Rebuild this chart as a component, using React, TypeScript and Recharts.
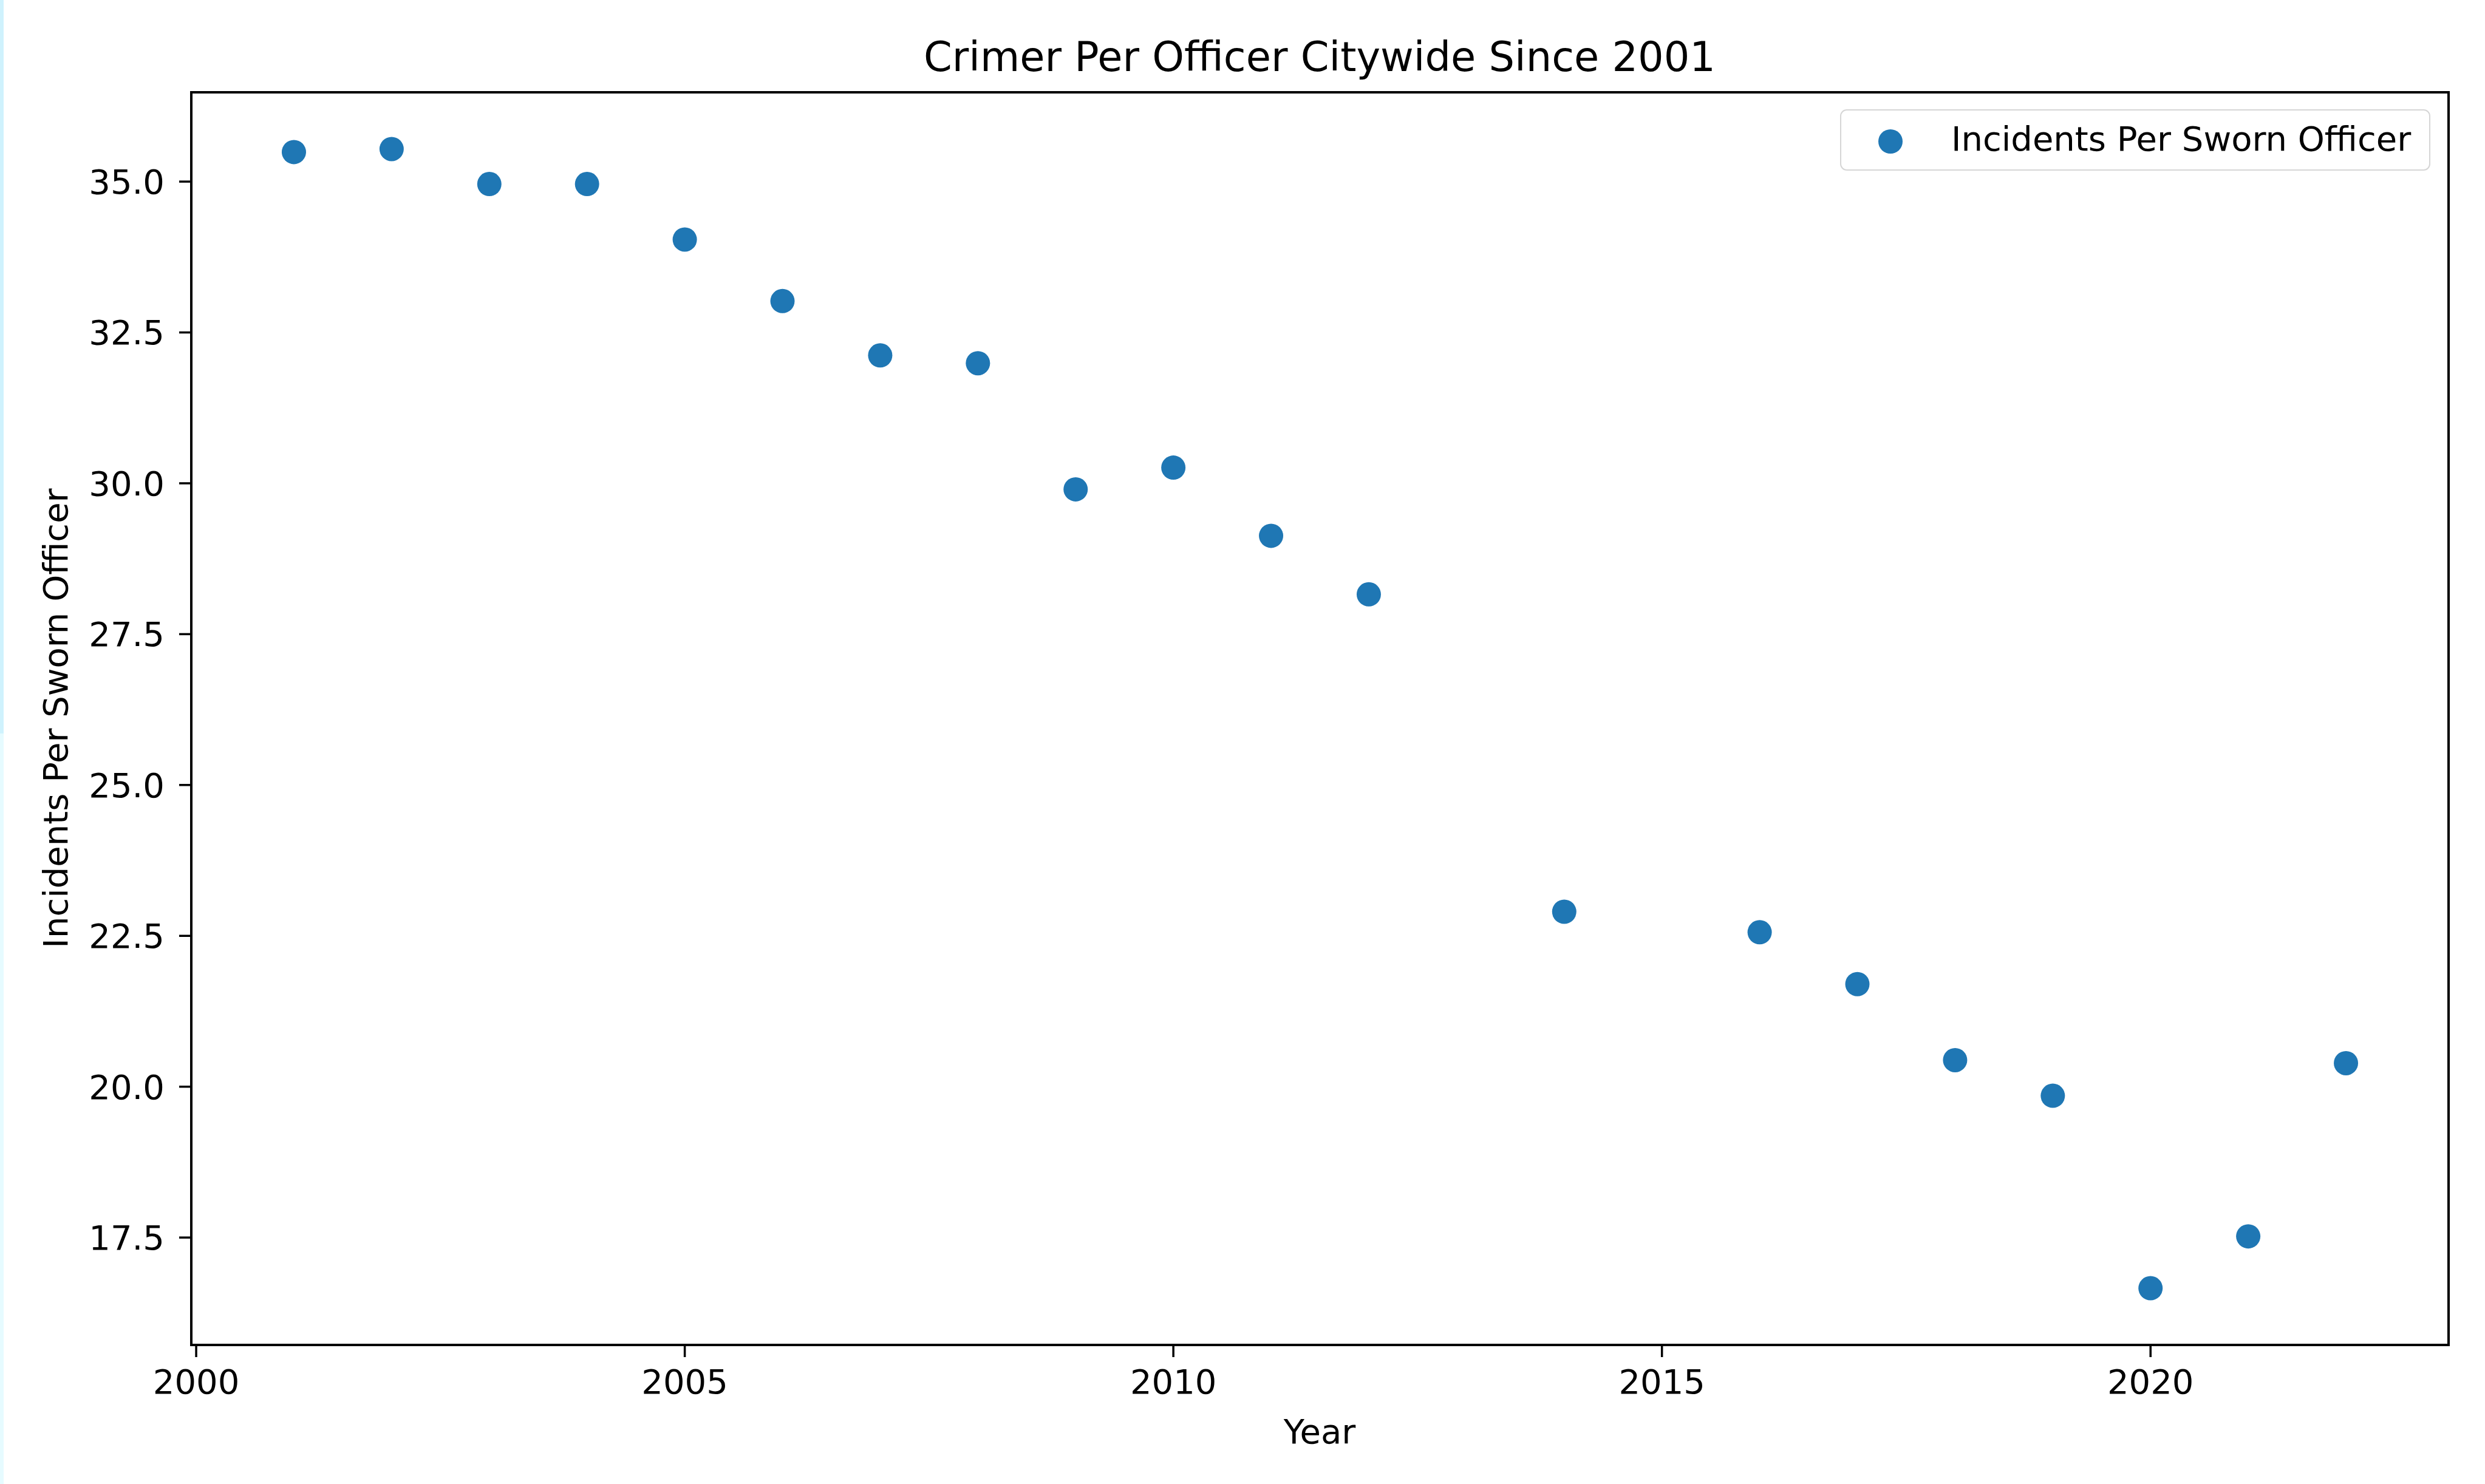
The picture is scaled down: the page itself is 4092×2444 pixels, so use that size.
import {
  ScatterChart,
  Scatter,
  XAxis,
  YAxis,
  Legend,
  ReferenceArea,
} from "recharts";

const years = [
  2001, 2002, 2003, 2004, 2005, 2006, 2007, 2008, 2009, 2010, 2011, 2012,
  2014, 2016, 2017, 2018, 2019, 2020, 2021, 2022,
];
const incidentsPerOfficer = [
  35.49, 35.54, 34.96, 34.96, 34.04, 33.02, 32.12, 31.99, 29.9, 30.26, 29.13,
  28.16, 22.9, 22.56, 21.7, 20.44, 19.85, 16.66, 17.52, 20.39,
];
const xTicks = [2000, 2005, 2010, 2015, 2020];
const yTicks = [17.5, 20.0, 22.5, 25.0, 27.5, 30.0, 32.5, 35.0];

const X_DOMAIN: [number, number] = [1999.95, 2023.05];
const Y_DOMAIN: [number, number] = [15.72, 36.48];

const FONT = "'DejaVu Sans', sans-serif";
const BLUE = "#1f77b4";

type Point = { year: number; value: number };

const data: Point[] = years.map((year, i) => ({
  year,
  value: incidentsPerOfficer[i],
}));

const Dot = (props: any) => {
  const { cx, cy } = props;
  if (cx == null || cy == null) return null;
  return <circle cx={cx} cy={cy} r={20} fill={BLUE} />;
};

const LegendBox = (props: any) => {
  const name = props.payload?.[0]?.value ?? "Incidents Per Sworn Officer";
  return (
    <div
      style={{
        position: "relative",
        width: 968,
        height: 97,
        border: "2.5px solid #d6d6d6",
        borderRadius: 11,
        background: "rgba(255,255,255,0.8)",
        fontFamily: FONT,
        fontSize: 56,
        color: "#000",
      }}
    >
      <svg
        width={60}
        height={60}
        style={{ position: "absolute", left: 51, top: 21 }}
      >
        <circle cx={30} cy={30} r={20} fill={BLUE} />
      </svg>
      <span
        style={{
          position: "absolute",
          left: 181,
          top: 14,
          lineHeight: "66px",
          whiteSpace: "nowrap",
        }}
      >
        {name}
      </span>
    </div>
  );
};

export default function App() {
  return (
    <div
      style={{
        position: "absolute",
        left: 0,
        top: 0,
        width: 4092,
        height: 2444,
        background: "#fff",
      }}
    >
      <div
        style={{
          position: "absolute",
          left: 0,
          top: 0,
          width: 6,
          height: 1208,
          background: "#cff2fd",
        }}
      />
      <div
        style={{
          position: "absolute",
          left: 0,
          top: 1208,
          width: 6,
          height: 1236,
          background: "#e6fbff",
        }}
      />
      <ScatterChart
        width={4092}
        height={2444}
        margin={{ top: 152, right: 60, bottom: 0, left: 0 }}
      >
        <XAxis
          type="number"
          dataKey="year"
          domain={X_DOMAIN}
          ticks={xTicks}
          allowDataOverflow
          height={229}
          tickSize={20}
          tickMargin={20}
          axisLine={{ stroke: "#000", strokeWidth: 4 }}
          tickLine={{ stroke: "#000", strokeWidth: 3.5 }}
          tick={{ fontSize: 56, fill: "#000", fontFamily: FONT }}
        />
        <YAxis
          type="number"
          dataKey="value"
          domain={Y_DOMAIN}
          ticks={yTicks}
          allowDataOverflow
          width={315}
          tickSize={20}
          tickMargin={24}
          tickFormatter={(v: number) => v.toFixed(1)}
          axisLine={{ stroke: "#000", strokeWidth: 4 }}
          tickLine={{ stroke: "#000", strokeWidth: 3.5 }}
          tick={{ fontSize: 56, fill: "#000", fontFamily: FONT }}
        />
        <ReferenceArea
          x1={X_DOMAIN[0]}
          x2={X_DOMAIN[1]}
          y1={Y_DOMAIN[0]}
          y2={Y_DOMAIN[1]}
          fill="none"
          stroke="#000"
          strokeWidth={4}
          ifOverflow="visible"
        />
        <Scatter
          name="Incidents Per Sworn Officer"
          data={data}
          fill={BLUE}
          shape={Dot}
          isAnimationActive={false}
        />
        <Legend
          layout="horizontal"
          align="center"
          verticalAlign="middle"
          content={LegendBox}
          wrapperStyle={{ left: 3030, top: 180, width: "auto" }}
        />
        <text
          x={2173}
          y={117}
          textAnchor="middle"
          fontSize={67}
          fontFamily={FONT}
          fill="#000"
        >
          Crimer Per Officer Citywide Since 2001
        </text>
        <text
          x={2173}
          y={2377}
          textAnchor="middle"
          fontSize={56}
          fontFamily={FONT}
          fill="#000"
        >
          Year
        </text>
        <text
          x={111}
          y={1183}
          textAnchor="middle"
          fontSize={56}
          fontFamily={FONT}
          fill="#000"
          transform="rotate(-90, 111, 1183)"
        >
          Incidents Per Sworn Officer
        </text>
      </ScatterChart>
    </div>
  );
}
